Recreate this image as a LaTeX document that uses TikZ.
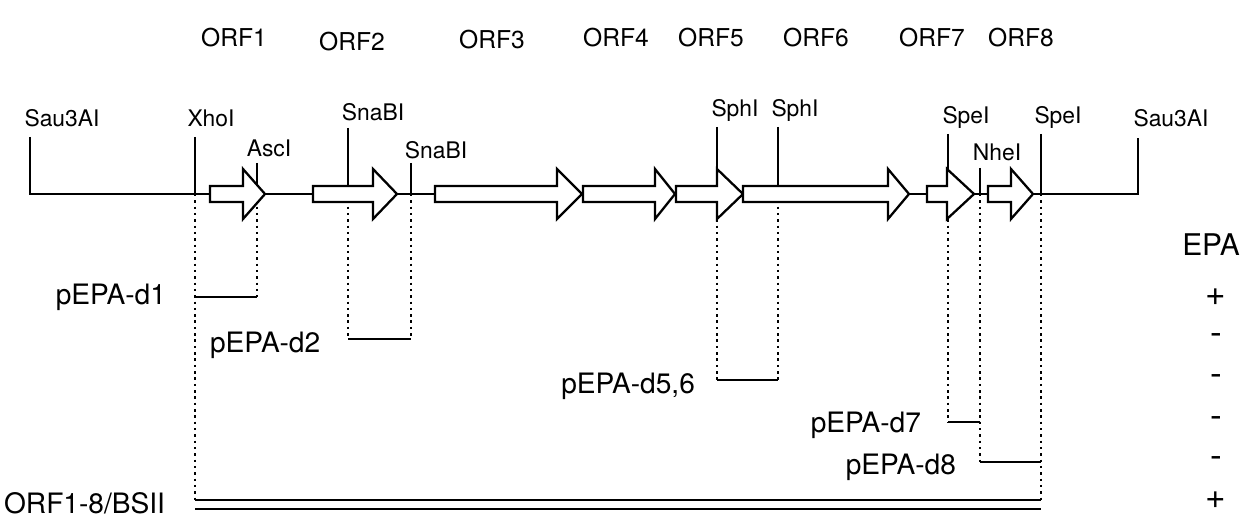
\documentclass[tikz,border=0pt]{standalone}
\usepackage{fontspec}
\setmainfont{TeX Gyre Heros}
\usepackage{tikz}
\tikzset{
  site/.style={font=\fontsize{13}{15}\selectfont,inner sep=1pt},
  orfname/.style={font=\fontsize{14}{16}\selectfont,inner sep=1pt},
  dellbl/.style={font=\fontsize{16}{18}\selectfont,inner sep=1pt},
  sign/.style={font=\fontsize{20}{22}\selectfont,inner sep=1pt},
  kept/.style={line width=1.3pt},
  gap/.style={line width=1.4pt,dash pattern=on 1.4pt off 2.2pt},
  orf/.style={draw,fill=white,line width=1.3pt,line join=miter}
}
% ORF arrow: start, head base, tip
\newcommand{\orfarrow}[3]{\draw[orf] (#1,186) -- (#2,186) -- (#2,169) -- (#3,194) -- (#2,219) -- (#2,202) -- (#1,202) -- cycle;}

\begin{document}
\begin{tikzpicture}[x=0.02cm,y=-0.02cm]
\path[use as bounding box] (0,0) rectangle (1249,517);
% ORF names
\node[orfname] (orf1) at (234,38) {ORF1};
\node[orfname] (orf2) at (352,42) {ORF2};
\node[orfname] (orf3) at (492,40) {ORF3};
\node[orfname] (orf4) at (616,38) {ORF4};
\node[orfname] (orf5) at (711,38) {ORF5};
\node[orfname] (orf6) at (816,38) {ORF6};
\node[orfname] (orf7) at (932,38) {ORF7};
\node[orfname] (orf8) at (1021,38) {ORF8};
% sites on the map line
\coordinate (sauL) at (30,194);
\coordinate (xho) at (195,194);
\coordinate (asc) at (257,194);
\coordinate (sna1) at (348,194);
\coordinate (sna2) at (411,194);
\coordinate (sph1) at (717,194);
\coordinate (sph2) at (778,194);
\coordinate (spe1) at (948,194);
\coordinate (nhe) at (980,194);
\coordinate (spe2) at (1041,194);
\coordinate (sauR) at (1138,194);
% tick tops
\coordinate (sauLT) at (30,137);
\coordinate (xhoT) at (195,137);
\coordinate (ascT) at (257,163);
\coordinate (sna1T) at (348,128);
\coordinate (sna2T) at (411,163);
\coordinate (sph1T) at (717,127);
\coordinate (sph2T) at (778,127);
\coordinate (spe1T) at (948,134);
\coordinate (nheT) at (980,168);
\coordinate (spe2T) at (1041,134);
\coordinate (sauRT) at (1138,138);
% site names
\node[site] (sauLlbl) at (62,118) {Sau3AI};
\node[site] (xholbl) at (211,118) {XhoI};
\node[site] (asclbl) at (269,148) {AscI};
\node[site] (sna1lbl) at (373,112) {SnaBI};
\node[site] (sna2lbl) at (436,150) {SnaBI};
\node[site] (sph1lbl) at (735,110) {SphI};
\node[site] (sph2lbl) at (795,110) {SphI};
\node[site] (spe1lbl) at (966,117) {SpeI};
\node[site] (nhelbl) at (997,152) {NheI};
\node[site] (spe2lbl) at (1058,117) {SpeI};
\node[site] (sauRlbl) at (1171,118) {Sau3AI};
% deletion ends
\coordinate (d1a) at (195,297); \coordinate (d1b) at (257,297);
\coordinate (d2a) at (348,339); \coordinate (d2b) at (411,339);
\coordinate (d56a) at (717,380); \coordinate (d56b) at (778,380);
\coordinate (d7a) at (948,422); \coordinate (d7b) at (980,422);
\coordinate (d8a) at (980,462); \coordinate (d8b) at (1041,462);
\coordinate (bsa) at (195,500); \coordinate (bsb) at (1041,500);
\coordinate (bsc) at (195,509); \coordinate (bsd) at (1041,509);
% map line and ticks
\draw[kept] (sauLT) -- (sauL) -- (sauR) -- (sauRT);
\foreach \s in {xho,asc,sna1,sna2,sph1,sph2,spe1,nhe,spe2}
  \draw[kept] (\s T) -- (\s);
% dotted drops
\draw[gap] (xho) -- (bsa);
\draw[gap] (asc) -- (d1b);
\draw[gap] (sna1) -- (d2a);
\draw[gap] (sna2) -- (d2b);
\draw[gap] (sph1) -- (d56a);
\draw[gap] (sph2) -- (d56b);
\draw[gap] (spe1) -- (d7a);
\draw[gap] (nhe) -- (d8a);
\draw[gap] (spe2) -- (bsb);
% retained pieces
\draw[kept] (d1a) -- (d1b);
\draw[kept] (d2a) -- (d2b);
\draw[kept] (d56a) -- (d56b);
\draw[kept] (d7a) -- (d7b);
\draw[kept] (d8a) -- (d8b);
\draw[kept] (bsa) -- (bsb);
\draw[kept] (bsc) -- (bsd);
% ORFs
\orfarrow{210}{243}{265}
\orfarrow{313}{373}{397}
\orfarrow{435}{557}{582}
\orfarrow{583}{655}{675}
\orfarrow{676}{717}{743}
\orfarrow{743}{888}{909}
\orfarrow{927}{947}{974}
\orfarrow{988}{1011}{1033}
% construct names
\node[dellbl,anchor=east] (pd1) at (168,297) {pEPA-d1};
\node[dellbl,anchor=west] (pd2) at (208,345) {pEPA-d2};
\node[dellbl,anchor=east] (pd56) at (697,386) {pEPA-d5,6};
\node[dellbl,anchor=east] (pd7) at (923,425) {pEPA-d7};
\node[dellbl,anchor=east] (pd8) at (958,467) {pEPA-d8};
\node[dellbl,anchor=west] (pbs) at (2,503) {ORF1-8/BSII};
% EPA column
\node[font=\fontsize{17}{19}\selectfont] (epa) at (1211,245) {EPA};
\node[sign] (s1) at (1216,297) {+};
\node[sign] (s2) at (1216,339) {-};
\node[sign] (s3) at (1216,380) {-};
\node[sign] (s4) at (1216,422) {-};
\node[sign] (s5) at (1216,462) {-};
\node[sign] (s6) at (1216,500) {+};
\end{tikzpicture}
\end{document}
